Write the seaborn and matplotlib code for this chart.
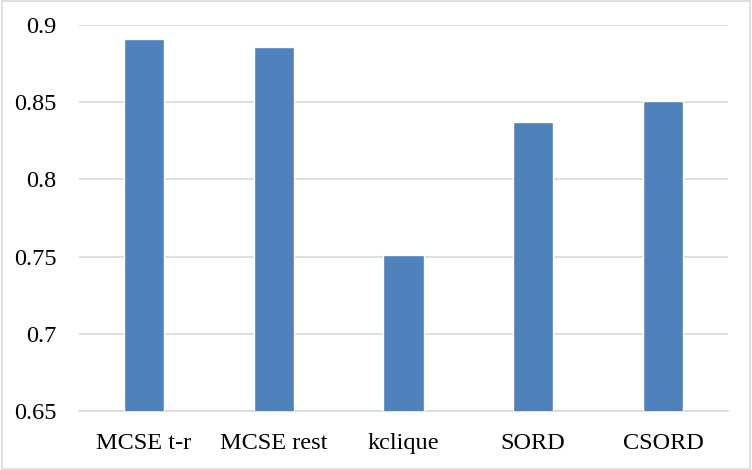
import matplotlib
matplotlib.use("Agg")
import matplotlib.pyplot as plt
import seaborn as sns
import pandas as pd
from matplotlib.patches import Rectangle

# Chart data
methods = ["MCSE t-r", "MCSE rest", "kclique", "SORD", "CSORD"]
scores = [0.891, 0.886, 0.751, 0.837, 0.851]
y_ticks = [0.65, 0.7, 0.75, 0.8, 0.85, 0.9]
y_tick_labels = ["0.65", "0.7", "0.75", "0.8", "0.85", "0.9"]

df = pd.DataFrame({"Method": methods, "Score": scores})

sns.set_theme(style="white")
plt.rcParams["font.family"] = ["Liberation Serif", "DejaVu Serif"]

fig = plt.figure(figsize=(7.52, 4.70), dpi=100)
ax = fig.add_axes([0.105, 0.1255, 0.863, 0.8215])

sns.barplot(x="Method", y="Score", data=df, color="#4F81BD", width=0.31,
            saturation=1, ax=ax, zorder=3)

ax.set_ylim(0.65, 0.9)
ax.set_yticks(y_ticks)
ax.set_yticklabels(y_tick_labels)
ax.set_xlim(-0.5, len(methods) - 0.5)
ax.yaxis.grid(True, color="#D9D9D9", linewidth=1.2, zorder=0)
ax.set_axisbelow(True)

for side in ["top", "right", "left"]:
    ax.spines[side].set_visible(False)
ax.spines["bottom"].set_color("#D9D9D9")
ax.spines["bottom"].set_linewidth(1.2)

ax.tick_params(axis="both", length=0, labelsize=17.5, colors="black")
ax.tick_params(axis="y", pad=16)
ax.tick_params(axis="x", pad=16)
ax.set_xlabel("")
ax.set_ylabel("")

# Light outer border like the chart area frame
fig.patches.append(Rectangle((0.002, 0.003), 0.995, 0.994, transform=fig.transFigure,
                             fill=False, edgecolor="#D9D9D9", linewidth=1.2))

plt.savefig("out.png", dpi=100)
